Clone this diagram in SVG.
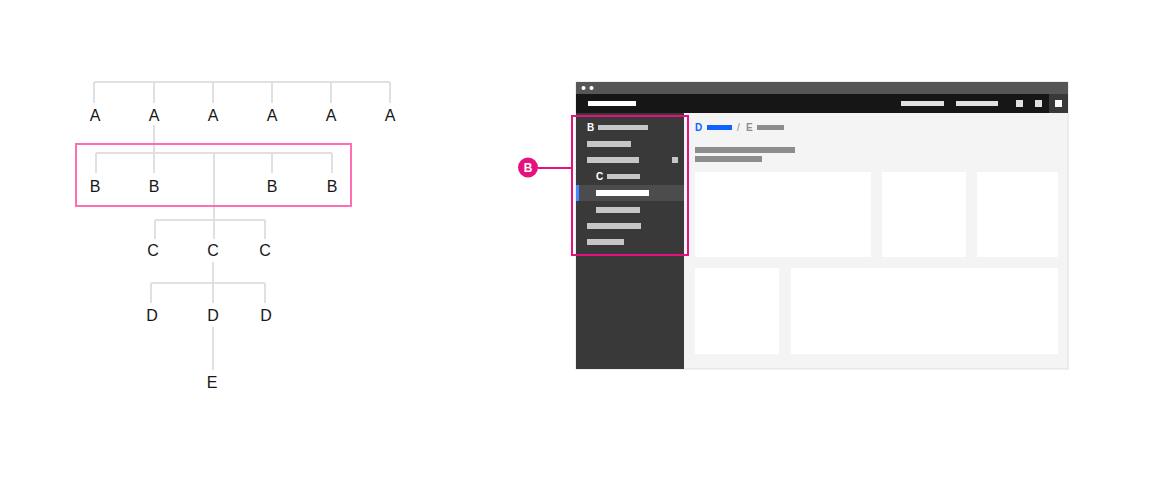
<svg xmlns="http://www.w3.org/2000/svg" width="1152" height="481" viewBox="0 0 1152 481">
<style>
.t{font-family:"Liberation Sans",Arial,sans-serif;font-size:16px;fill:#161616;text-anchor:middle}
.ln{stroke:#e0e0e0;stroke-width:2;fill:none}
.bar{fill:#c6c6c6}
.gb{fill:#8d8d8d}
.card{fill:#ffffff}
.sm{font-family:"Liberation Sans",Arial,sans-serif;font-size:10px;font-weight:bold}
</style>
<rect width="1152" height="481" fill="#ffffff"/>
<g id="connectors">
<path class="ln" d="M94 82H390M94 82V103M154 82V103M213 82V103M272 82V103M331 82V103M390 82V103"/>
<path class="ln" d="M154 125V173M96 153H332M96 153V173M272 153V173M332 153V173"/>
<path class="ln" d="M214 153V239M155 220H265M155 220V239M265 220V239"/>
<path class="ln" d="M213 262V303M151 283H265M151 283V303M265 283V303"/>
<path class="ln" d="M213 327V370"/>
</g>
<g id="nodes-A">
<text class="t" x="95" y="121">A</text>
<text class="t" x="154" y="121">A</text>
<text class="t" x="213" y="121">A</text>
<text class="t" x="272" y="121">A</text>
<text class="t" x="331" y="121">A</text>
<text class="t" x="390" y="121">A</text>
</g>
<g id="nodes-B">
<text class="t" x="95" y="192">B</text>
<text class="t" x="154" y="192">B</text>
<text class="t" x="272" y="192">B</text>
<text class="t" x="332" y="192">B</text>
</g>
<g id="nodes-C">
<text class="t" x="153" y="256">C</text>
<text class="t" x="213" y="256">C</text>
<text class="t" x="265" y="256">C</text>
</g>
<g id="nodes-D">
<text class="t" x="152" y="321">D</text>
<text class="t" x="213" y="321">D</text>
<text class="t" x="266" y="321">D</text>
</g>
<g id="node-E">
<text class="t" x="212" y="388">E</text>
</g>
<g id="highlight-B">
<rect x="76" y="144" width="275" height="62" fill="none" stroke="#ff6eb4" stroke-width="2"/>
</g>
<g id="browser">
<rect x="576" y="82" width="492" height="287" fill="#f4f4f4" stroke="#e0e0e0" stroke-width="1"/>
<rect x="576" y="82" width="492" height="12" fill="#565656"/>
<circle cx="583.5" cy="88" r="2" fill="#ffffff"/>
<circle cx="591.5" cy="88" r="2" fill="#ffffff"/>
<rect x="576" y="94" width="492" height="19" fill="#161616"/>
<rect x="588" y="101" width="48" height="5" fill="#ffffff"/>
<rect x="901" y="101" width="43" height="5" fill="#e0e0e0"/>
<rect x="956" y="101" width="42" height="5" fill="#e0e0e0"/>
<rect x="1016" y="100" width="7" height="7" fill="#e0e0e0"/>
<rect x="1035" y="100" width="7" height="7" fill="#e0e0e0"/>
<rect x="1049" y="94" width="19" height="19" fill="#393939"/>
<rect x="1055" y="100" width="7" height="7" fill="#ffffff"/>
<rect x="576" y="113" width="108" height="256" fill="#393939"/>
<text class="sm" x="587" y="131" fill="#ffffff">B</text>
<rect class="bar" x="598" y="125" width="50" height="5"/>
<rect class="bar" x="587" y="141" width="44" height="6"/>
<rect class="bar" x="587" y="157" width="52" height="6"/>
<rect class="bar" x="672" y="157" width="6" height="6"/>
<text class="sm" x="596" y="180" fill="#ffffff">C</text>
<rect class="bar" x="607" y="174" width="33" height="5"/>
<rect x="576" y="185" width="108" height="16" fill="#4c4c4c"/>
<rect x="576" y="185" width="3" height="16" fill="#4589ff"/>
<rect x="596" y="190" width="53" height="6" fill="#ffffff"/>
<rect class="bar" x="596" y="207" width="44" height="6"/>
<rect class="bar" x="587" y="223" width="54" height="6"/>
<rect class="bar" x="587" y="239" width="37" height="6"/>
<text class="sm" x="695" y="131" fill="#0f62fe">D</text>
<rect x="707" y="125" width="25" height="5" fill="#0f62fe"/>
<text class="sm" x="737" y="131" fill="#8d8d8d" style="font-weight:normal">/</text>
<text class="sm" x="746" y="131" fill="#8d8d8d">E</text>
<rect class="gb" x="757" y="125" width="27" height="5"/>
<rect class="gb" x="695" y="147" width="100" height="6"/>
<rect class="gb" x="695" y="156" width="67" height="6"/>
<rect class="card" x="695" y="172" width="176" height="85"/>
<rect class="card" x="882" y="172" width="84" height="85"/>
<rect class="card" x="977" y="172" width="81" height="85"/>
<rect class="card" x="695" y="268" width="84" height="86"/>
<rect class="card" x="791" y="268" width="267" height="86"/>
</g>
<g id="highlight-sidebar">
<rect x="572" y="116" width="116" height="139" fill="none" stroke="#e5127d" stroke-width="2"/>
<path d="M538 168H572" stroke="#e5127d" stroke-width="2"/>
<circle cx="528" cy="167.5" r="10" fill="#e5127d"/>
<text x="528" y="172" text-anchor="middle" font-family="'Liberation Sans',Arial,sans-serif" font-size="12" font-weight="bold" fill="#ffffff">B</text>
</g>
</svg>
